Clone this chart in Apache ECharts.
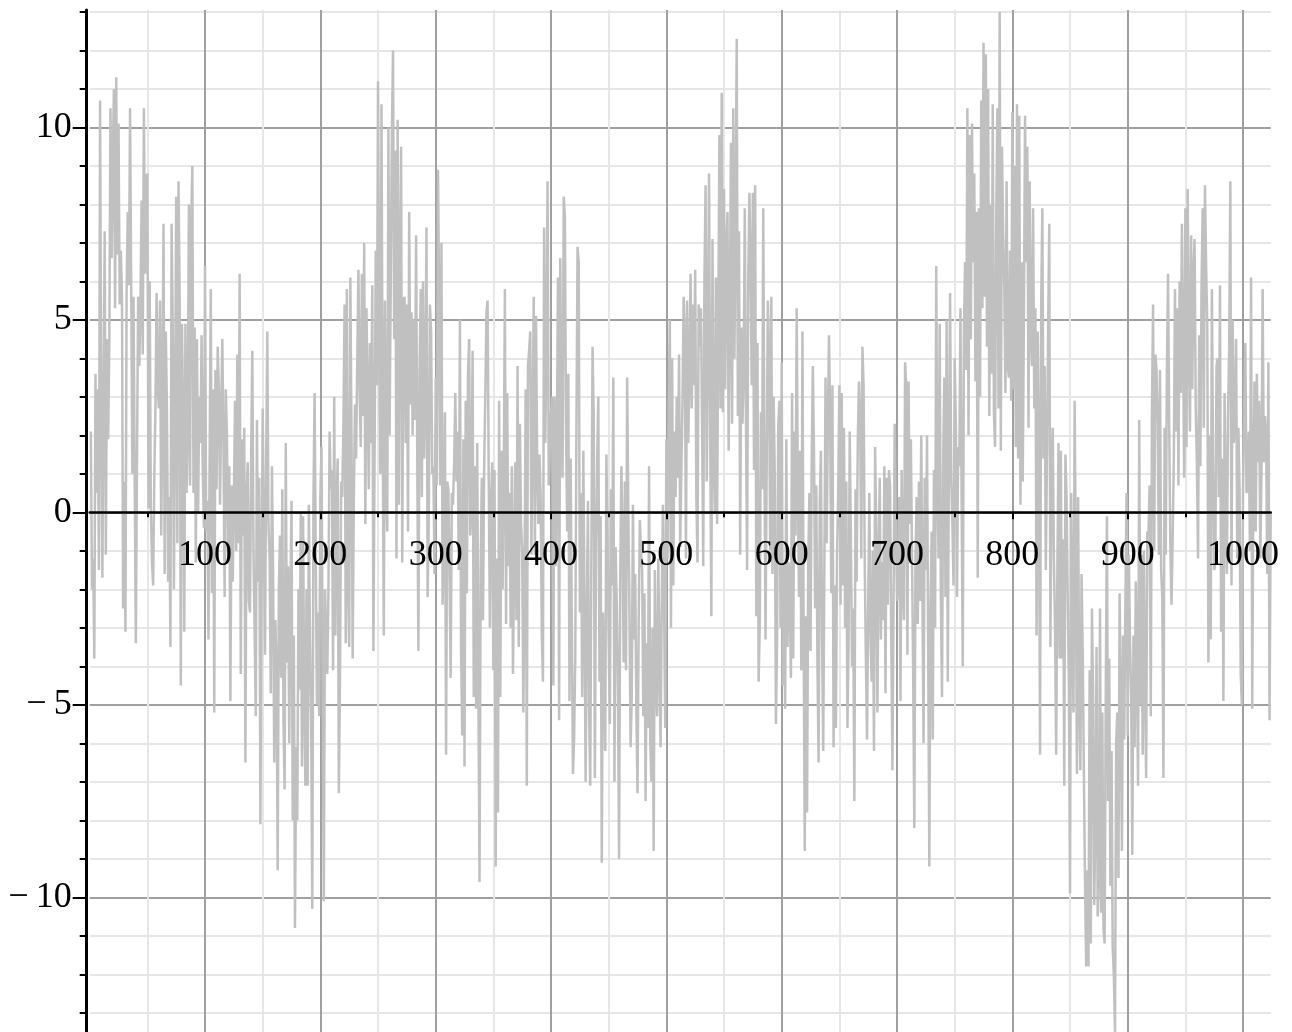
<!DOCTYPE html>
<html>
<head>
<meta charset="utf-8">
<title>signal</title>
<script src="https://cdn.jsdelivr.net/npm/echarts@6/dist/echarts.min.js"></script>
<style>
  html, body { margin: 0; padding: 0; background: #fff; }
  #chart { width: 1292px; height: 1032px; }
</style>
</head>
<body>
<div id="chart"></div>
<script>
// samples 1..1024
var values = [
  2.1, -2.0, -1.2, -3.8, 3.6, 0.5, 3.2, -1.5, 10.7, 3.0, -1.7, 3.1, 7.3, -1.1, 4.5, 1.9,
  4.4, 10.5, 6.6, 9.2, 11.0, 5.3, 11.3, 6.7, 10.1, 5.4, 6.8, 5.6, -2.5, 0.8, -3.1, 5.8,
  7.8, 5.9, 10.5, 5.7, 1.0, 5.6, 0.9, -3.4, 1.3, 5.6, 3.8, 5.4, 8.1, 4.1, 10.5, 6.2,
  8.7, 8.8, 0.1, 6.0, 0.1, -1.3, -1.9, 0.9, 2.7, 5.7, 3.2, 2.7, 5.5, -0.6, 2.8, 7.5,
  -1.6, 4.7, 2.6, -1.8, 0.4, -3.5, 7.5, 4.8, -2.0, 2.5, 8.2, -0.8, 8.6, 5.6, -4.5, 4.9,
  2.4, -3.1, 4.9, 0.5, 2.1, 8.0, 0.7, 7.5, 9.0, 0.5, 4.8, -1.3, 4.5, 0.0, 3.0, 1.8,
  4.6, 1.1, -0.4, 6.4, -0.5, 0.3, -3.3, 1.5, 5.8, -2.1, 3.2, -5.2, 3.7, 0.6, 4.3, 3.2,
  0.2, 2.6, 4.5, 1.7, -2.2, 3.2, 2.0, -1.3, 1.2, -4.9, 0.7, -1.8, 0.3, 2.9, -1.0, 4.1,
  -0.8, 6.2, -4.2, 1.9, -0.6, 2.2, -6.5, 0.4, 1.3, -2.3, -2.6, 1.6, 4.2, -1.0, -3.1, -5.3,
  2.4, -1.8, 0.9, -8.1, -2.4, 2.7, -0.5, -3.7, 1.4, 4.7, -0.3, -1.2, -4.7, 1.2, -1.5, -6.5,
  -2.8, -4.1, -9.3, -2.0, -0.6, -4.3, 0.6, -5.4, -7.2, 1.8, -3.9, -1.4, -6.0, -2.2, 0.3, -8.0,
  -3.2, -10.8, -6.1, -8.0, -2.0, -4.6, 0.0, -6.6, -0.1, -5.0, -7.1, -2.0, -7.1, 0.2, -3.3, -5.5,
  -10.3, 0.3, 3.1, -1.2, -5.0, -2.6, -5.3, 0.4, 1.7, -4.4, -10.1, -2.0, -3.2, -4.2, -2.0, 2.1,
  0.6, 1.1, -4.1, 3.0, -3.2, 0.2, 1.4, -7.3, -4.4, 0.8, 0.4, 2.3, 5.4, -3.4, 5.8, -1.8,
  -3.5, 6.1, 1.9, -3.8, 0.3, 2.8, 1.4, 4.0, 6.3, 3.2, 1.7, 6.2, 2.5, 7.0, -0.3, 5.3,
  3.0, 0.6, 4.4, 1.8, 5.9, -3.6, 1.5, 6.8, 3.3, 11.2, 4.7, 1.0, 10.6, 2.5, -3.2, 5.5,
  0.7, -0.5, 10.0, 2.0, 5.8, 9.8, 12.0, 4.5, 9.4, -1.2, 10.2, 0.2, 6.3, 9.5, -1.3, 5.5,
  5.6, 1.8, 5.4, -0.5, 7.8, 2.8, 5.2, 2.0, 5.0, 2.4, 7.2, 1.5, -3.6, 3.6, 5.8, 0.4,
  6.0, 1.4, 3.1, 7.4, -2.2, -0.2, 5.4, 4.7, 1.0, 1.2, -1.6, 3.5, 0.7, 8.9, 5.5, 0.7,
  7.0, -2.4, -0.9, 2.6, -6.3, 0.8, 0.6, -1.7, -4.3, 0.5, 0.2, 1.3, 3.1, 0.8, 2.1, -1.5,
  5.0, -3.6, -5.8, 1.9, -6.6, 2.9, -2.1, 3.6, 4.5, -0.6, 0.3, 4.2, -4.8, 1.2, -5.1, 1.8,
  -4.5, -9.6, -1.4, 0.9, -2.8, 1.1, 3.0, 5.2, 5.5, 0.8, -3.0, 0.3, 1.3, -4.1, 1.1, -9.2,
  -1.2, -7.8, 2.9, -4.8, 1.6, -2.0, 0.9, 5.8, -2.9, 3.1, -1.4, 0.5, -3.0, 1.2, -4.2, -1.2,
  1.3, -2.8, 3.8, -3.5, 2.3, -0.3, -1.0, -5.2, -1.7, 3.2, -7.1, 3.8, 4.2, 4.7, -1.1, 2.0,
  5.6, -1.1, 5.1, 1.2, -0.3, 1.5, 0.4, -3.2, -4.4, 7.4, 1.8, 4.2, 8.6, 0.7, 1.7, 2.6,
  3.0, -4.5, 3.0, -1.4, 1.5, 6.1, -5.4, 6.6, 2.4, 0.9, 8.2, 7.7, 2.2, -0.5, 3.6, -4.9,
  1.4, -2.7, -6.8, -5.9, -3.8, 2.1, 6.9, 6.5, -2.6, 0.5, -4.8, 1.6, -2.5, -7.0, -2.6, 0.3,
  -5.2, -7.1, -1.0, 4.3, 2.5, -6.9, -1.0, 1.4, 3.0, -4.4, -0.1, -9.1, -2.6, -4.2, -6.2, 1.5,
  -0.6, -3.3, -5.5, 0.6, -1.9, 3.5, -7.0, -0.9, -2.4, -4.6, -9.0, -1.7, 1.2, -0.9, -3.9, 0.8,
  -4.1, 3.5, 0.1, -2.6, -6.1, -4.8, 0.2, -3.3, -1.6, -5.2, -7.3, -2.8, -0.2, -1.0, -1.5, -5.3,
  -2.1, -7.5, -3.4, -5.6, 1.2, -5.9, -7.0, -3.0, -8.8, -1.5, -4.4, -5.3, -1.2, -3.7, -6.1, -2.4,
  0.2, -2.3, -5.6, 1.9, -1.2, 2.6, 5.0, -3.0, 4.0, -1.9, 2.1, 0.4, 3.0, 0.9, 4.1, -0.9,
  1.1, 2.9, 5.6, 4.5, -1.2, 5.5, 1.8, 3.6, 6.2, 2.7, 5.4, 3.3, 6.3, 0.4, -1.3, 5.4,
  4.3, 5.3, 2.2, -1.4, 6.0, 8.5, 0.8, 4.4, 8.8, 2.0, -2.7, 7.1, 1.5, 0.0, 6.1, -0.3,
  4.9, 9.8, 2.7, 10.9, 2.6, 8.4, 3.2, 6.9, 7.8, 1.6, 5.0, 9.6, 2.3, 10.5, 4.0, 7.6,
  12.3, 2.5, 7.3, -1.1, 4.8, 2.3, 3.6, 7.9, 2.5, -1.5, 6.0, 8.3, 6.4, 3.3, 8.3, 1.1,
  8.5, -2.7, 4.4, -4.4, -2.9, 2.6, 0.6, 7.9, 1.4, -3.3, 1.3, 5.5, 4.1, -1.0, 5.6, -1.6,
  3.0, 1.0, -5.5, -3.3, 2.2, 2.9, -3.0, 3.9, -4.5, -1.3, -5.1, 1.9, -3.5, -1.3, -2.2, -4.3,
  3.1, -3.8, 2.1, -0.6, 5.3, 0.7, -2.2, 1.6, -4.1, 4.7, -2.9, -8.8, -2.7, -7.8, -1.3, 0.5,
  -3.6, 1.3, 3.8, 1.6, -2.5, 0.7, -4.0, -6.5, 0.2, 1.6, -3.3, -6.2, -1.4, 3.5, -0.8, 2.2,
  4.6, 2.5, -2.1, 3.3, -6.1, -1.9, -5.6, -1.1, 0.5, 3.3, -2.4, 3.1, -1.9, 2.2, -3.0, 0.8,
  -5.6, -3.4, 2.1, -0.7, -4.0, -2.5, -7.5, 0.6, -1.8, 1.9, 3.4, 2.5, -1.2, 4.3, 3.3, -1.3,
  -3.8, -5.9, -2.4, 0.5, -3.2, -4.4, -1.0, -6.2, 1.7, -0.5, -5.2, -1.2, 0.9, -3.3, -1.3, -2.8,
  1.2, -4.7, 0.9, -2.4, 1.1, 0.7, -3.3, -6.7, -2.3, 2.3, -0.3, -2.3, -1.7, 0.4, -4.9, 1.1,
  -1.9, -2.8, 3.9, 3.3, -3.7, 3.4, -0.3, 1.9, -1.2, -4.2, -8.2, -1.2, 0.4, -2.9, 0.8, -2.3,
  2.0, -2.1, -6.0, 0.9, -1.5, 2.0, -3.4, -9.2, -2.6, -0.5, -5.9, 1.1, -3.0, 6.4, 0.8, -1.2,
  4.9, -2.2, -4.8, 1.2, 3.5, -2.2, 5.0, -4.4, 1.4, 5.7, 0.9, -0.3, -1.9, 4.0, 2.3, -2.2,
  1.7, 1.2, 5.3, 0.4, -4.0, 4.7, 6.5, 3.7, 10.5, 2.0, 9.8, 4.5, 10.1, 6.5, 8.8, 3.4,
  7.8, -1.7, 7.9, 3.0, 10.7, 5.3, 12.2, 5.6, 11.9, 4.3, 11.0, 2.5, 8.0, 3.6, 10.6, 2.6,
  1.7, 7.5, 10.5, 2.7, 13.0, 1.6, 9.5, 7.3, 5.9, 3.1, 8.6, 3.8, 3.5, 6.8, 2.9, 10.4,
  3.2, 9.0, 1.7, 10.6, 1.4, 10.3, 0.2, 6.5, 0.8, 5.1, 10.3, 6.5, 9.5, 2.2, 8.6, 4.6,
  3.8, 7.9, 2.7, 5.3, -3.2, 4.7, 1.8, -6.3, 5.4, 7.9, 1.4, 3.8, -1.5, 1.4, 4.7, 7.5,
  -3.5, 1.0, 2.2, -1.2, -3.0, -6.3, -1.6, 1.8, -3.8, 1.6, -3.8, -0.7, -7.1, 1.5, 0.4, -2.3,
  -4.4, -9.9, 0.5, -2.6, -5.2, 2.9, -1.2, -6.8, 0.4, -4.8, -6.7, -1.6, -3.6, -6.7, -9.6, -11.8,
  -9.3, -11.8, -4.1, -11.2, -2.5, -4.7, -10.2, -8.0, -3.5, -10.5, -9.5, -2.5, -10.4, -5.2, -10.8, -11.2,
  -4.7, -0.1, -7.5, -3.8, -9.7, -6.2, -11.3, -12.0, -13.5, -6.0, -5.2, -9.5, -2.1, -4.9, -8.8, -3.2,
  -5.9, -2.4, 0.5, -5.8, -1.1, -3.4, -4.7, -8.9, -3.2, -6.1, -1.8, -4.0, -7.1, 2.4, -5.0, -1.1,
  -6.3, -1.0, -4.5, -6.9, -0.5, -0.6, 0.7, -5.3, 2.5, 5.4, -1.0, 4.1, 3.7, 2.3, -1.1, 3.7,
  -1.5, -2.2, -6.9, 2.2, -1.1, 3.7, 6.2, 2.2, -0.9, -2.4, -0.7, 1.4, 5.8, 2.1, 5.3, 0.7,
  6.0, 3.1, 7.5, 4.2, 0.9, 7.9, 1.7, 8.4, 4.4, 2.1, 7.2, 3.2, 6.2, 7.1, 2.7, 1.3,
  -1.2, 4.6, 1.2, 5.8, 7.9, 2.2, 8.5, 6.4, 4.9, -3.9, 2.0, -3.3, 5.8, 1.4, -1.5, -1.3,
  3.8, 4.0, 0.4, 5.9, -3.1, 1.4, -4.9, 3.1, 0.5, -1.6, 2.5, 4.3, 8.6, -1.9, 5.0, 1.8,
  2.5, 4.5, -1.2, 2.2, 0.6, -4.2, -5.0, 0.6, 2.6, 4.4, 0.5, 0.7, 2.1, -1.0, 6.1, -5.1,
  1.0, 3.4, -0.5, 3.6, 1.3, 2.9, -1.2, 1.0, 5.8, 1.3, 2.5, 2.0, -1.6, 3.9, -5.4, 0.0
];
var xTickLabels = [100, 200, 300, 400, 500, 600, 700, 800, 900, 1000];
var yTickLabels = [-10, -5, 0, 5, 10];

var points = values.map(function (v, i) { return [i + 1, v]; });

var serif = '"Liberation Serif", "Times New Roman", serif';
var major = '#a0a0a0';
var minor = '#e6e6e6';

var xMin = 0, xMax = 1024;
var yMin = -13.5, yMax = 13.05;
var gridTop = 10, gridBottom = 0, chartH = 1032;
// pixel distance from the grid bottom up to y = 0, used to lift the x axis
var zeroLift = (chartH - gridTop - gridBottom) * (0 - yMin) / (yMax - yMin);

var chart = echarts.init(document.getElementById('chart'));
chart.setOption({
  animation: false,
  backgroundColor: '#fff',
  grid: { left: 89.7, right: 21.3, top: gridTop, bottom: gridBottom, containLabel: false, outerBoundsMode: 'none' },
  xAxis: [
    {
      // grid lines only, under the data
      type: 'value',
      min: xMin,
      max: xMax,
      splitNumber: 10,
      axisLine: { show: false },
      axisTick: { show: false },
      axisLabel: { show: false },
      minorTick: { show: false, splitNumber: 2 },
      splitLine: { show: true, showMinLine: false, showMaxLine: false, lineStyle: { color: major, width: 2 } },
      minorSplitLine: { show: true, lineStyle: { color: minor, width: 2 } }
    },
    {
      // axis line, ticks and labels, over the data
      type: 'value',
      min: xMin,
      max: xMax,
      splitNumber: 10,
      position: 'bottom',
      offset: -zeroLift,
      z: 5,
      axisLine: { onZero: false, lineStyle: { color: '#000', width: 2.5 } },
      axisTick: { show: true, customValues: xTickLabels, length: 7, lineStyle: { color: '#000', width: 2 } },
      minorTick: { show: true, splitNumber: 2, length: 5, lineStyle: { color: '#000', width: 2 } },
      axisLabel: {
        customValues: xTickLabels,
        margin: 25,
        color: '#000',
        fontFamily: serif,
        fontSize: 36,
        formatter: function (v) { return String(v); }
      },
      splitLine: { show: false },
      minorSplitLine: { show: false }
    }
  ],
  yAxis: {
    type: 'value',
    min: yMin,
    max: yMax,
    splitNumber: 5,
    offset: 3,
    axisLine: { onZero: false, lineStyle: { color: '#000', width: 3 } },
    axisTick: { show: true, customValues: yTickLabels, length: 14, lineStyle: { color: '#000', width: 2 } },
    minorTick: { show: true, splitNumber: 5, length: 7, lineStyle: { color: '#000', width: 2 } },
    axisLabel: {
      customValues: yTickLabels,
      margin: 15,
      color: '#000',
      fontFamily: serif,
      fontSize: 36,
      formatter: function (v) {
        return v < 0 ? '\u2212\u2009' + Math.abs(v) : String(v);
      }
    },
    splitLine: { show: true, lineStyle: { color: major, width: 2 } },
    minorSplitLine: { show: true, lineStyle: { color: minor, width: 2 } }
  },
  series: [
    {
      type: 'line',
      xAxisIndex: 0,
      data: points,
      showSymbol: false,
      symbol: 'none',
      sampling: null,
      lineStyle: { color: '#c0c0c0', width: 2.5 },
      z: 2
    }
  ]
});
</script>
</body>
</html>
